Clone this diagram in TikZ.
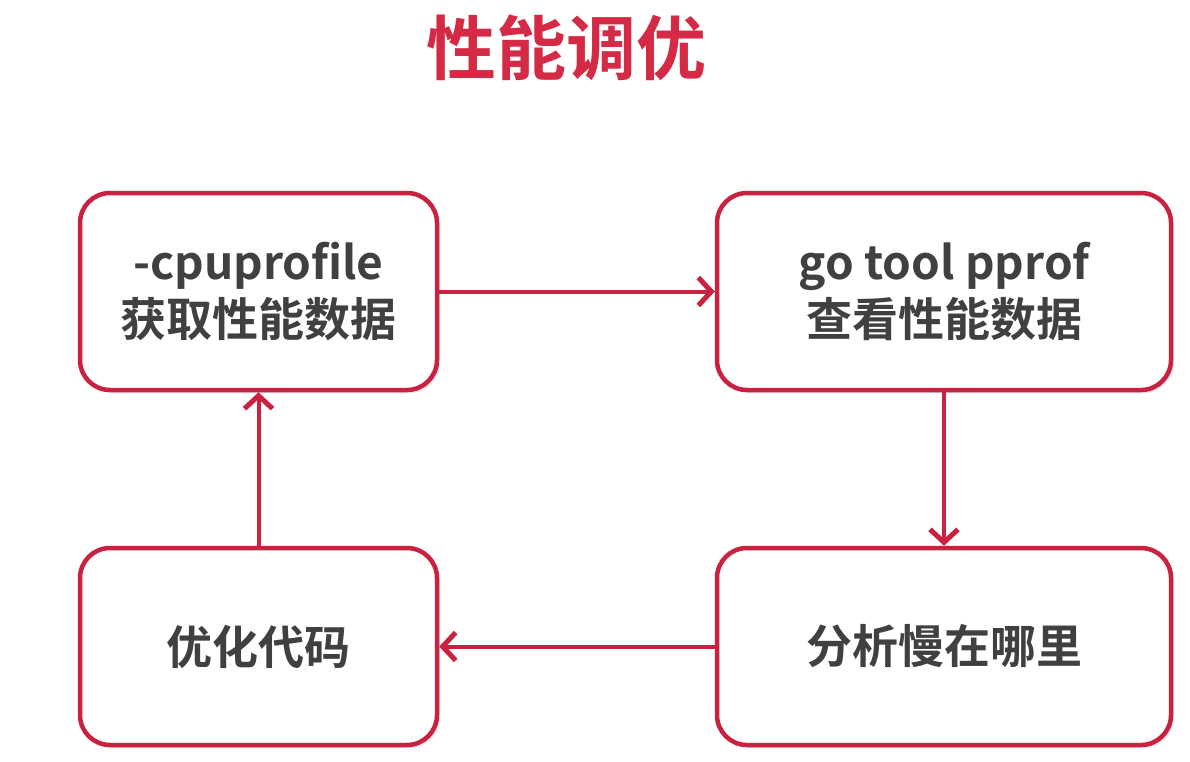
\documentclass[tikz,border=0pt]{standalone}
\usepackage{fontspec}
\setmainfont{Noto Sans CJK SC}[BoldFont={Noto Sans CJK SC Bold}]
\usetikzlibrary{arrows.meta,shadows}
\definecolor{rd}{HTML}{C9213F}
\definecolor{tt}{HTML}{D42A45}
\definecolor{tx}{HTML}{404040}
\begin{document}
\begin{tikzpicture}[x=1pt,y=-1pt,
  box/.style={draw=rd,line width=4.5pt,rounded corners=30pt,fill=white,
    minimum width=#1,minimum height=197pt,align=center,text=tx,
    font=\fontsize{46}{57}\selectfont\bfseries,
    drop shadow={opacity=0.18,shadow xshift=3pt,shadow yshift=-3pt}},
  conn/.style={draw=rd,line width=4pt,-{Straight Barb[length=13pt,width=28pt,line width=5pt]}}]
\useasboundingbox (0,0) rectangle (1190,762);
\fill[white] (0,0) rectangle (1190,762);
\node[text=tt,font=\fontsize{70}{70}\selectfont\bfseries] (title) at (566,48) {性能调优};
\node[box=357pt] (a) at (258.5,291.5) {-cpuprofile\\获取性能数据};
\node[box=454pt] (b) at (944,291.5) {go tool pprof\\查看性能数据};
\node[box=454pt] (c) at (944,646.5) {分析慢在哪里};
\node[box=357pt] (d) at (258.5,646.5) {优化代码};
\draw[conn] (a.east) -- (b.west);
\draw[conn] (b.south) -- (c.north);
\draw[conn] (c.west) -- (d.east);
\draw[conn] (d.north) -- (a.south);
\end{tikzpicture}
\end{document}
